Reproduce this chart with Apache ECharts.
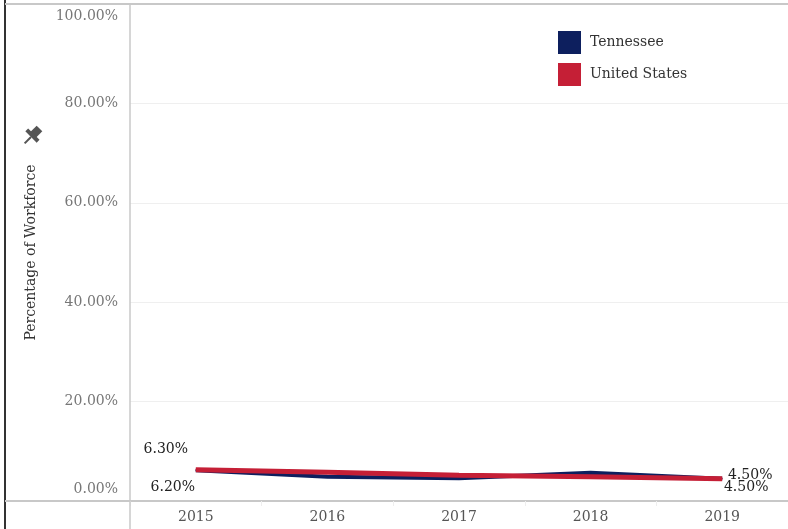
<!DOCTYPE html>
<html><head><meta charset="utf-8">
<script src="https://cdn.jsdelivr.net/npm/echarts@6/dist/echarts.min.js"></script>
<style>html,body{margin:0;padding:0;background:#fff}#c{width:788px;height:529px}</style>
</head><body><div id="c"></div>
<script>
var years = ['2015','2016','2017','2018','2019'];
var tennessee = [6.2, 4.9, 4.6, 5.7, 4.5];
var unitedStates = [6.3, 5.8, 5.2, 4.9, 4.5];
var yTicks = [0, 20, 40, 60, 80, 100];

var FONT = '"DejaVu Serif", "Liberation Serif", serif';
var NAVY = '#0d1f5e', RED = '#c51f36';

function endLabels(arr, first, last) {
  return arr.map(function (v, i) {
    var d = { value: v };
    if (i === 0) d.label = { show: true, position: 'inside', offset: first };
    else if (i === arr.length - 1) d.label = { show: true, position: 'inside', offset: last };
    return d;
  });
}

var chart = echarts.init(document.getElementById('c'));
chart.setOption({
  animation: false,
  backgroundColor: '#fff',
  grid: { left: 130, right: 0, top: 4, bottom: 28 },
  legend: {
    orient: 'vertical', left: 553, top: 26, itemWidth: 23, itemHeight: 23, itemGap: 9,
    icon: 'rect',
    textStyle: { fontFamily: FONT, fontSize: 14, color: '#333', padding: [0, 0, 0, 4] },
    data: ['Tennessee', 'United States']
  },
  xAxis: {
    type: 'category', data: years, boundaryGap: true,
    axisLine: { show: true, lineStyle: { color: '#c8c8c8', width: 2 } },
    axisTick: { show: true, alignWithLabel: false, length: 5, lineStyle: { color: '#eee' } },
    axisLabel: { fontFamily: FONT, fontSize: 14, color: '#555', margin: 9 }
  },
  yAxis: {
    type: 'value', min: yTicks[0], max: yTicks[yTicks.length - 1], interval: 20,
    name: 'Percentage of Workforce', nameLocation: 'middle', nameGap: 92, nameRotate: 90,
    nameTextStyle: { fontFamily: FONT, fontSize: 14, color: '#333' },
    axisLine: { show: false }, axisTick: { show: false },
    splitLine: { show: true, lineStyle: { color: '#efefef', width: 1 } },
    axisLabel: {
      margin: 12, color: '#777', fontFamily: FONT, fontSize: 14,
      formatter: function (v) {
        var t = v.toFixed(2) + '%';
        if (v === 0) return '{lo|' + t + '}';
        if (v === 100) return '{hi|' + t + '}';
        return t;
      },
      rich: {
        lo: { fontFamily: FONT, fontSize: 14, color: '#777', padding: [0, 0, 24, 0] },
        hi: { fontFamily: FONT, fontSize: 14, color: '#777', padding: [24, 0, 0, 0] }
      }
    }
  },
  series: [
    {
      name: 'Tennessee', type: 'line', data: endLabels(tennessee, [-23, 17], [24, 9]),
      symbol: 'circle', symbolSize: 1, showSymbol: true,
      itemStyle: { color: NAVY }, lineStyle: { color: NAVY, width: 4 },
      label: { show: false, formatter: function (p) { return p.value.toFixed(2) + '%'; }, fontFamily: FONT, fontSize: 14, color: '#222' },
      z: 2
    },
    {
      name: 'United States', type: 'line', data: endLabels(unitedStates, [-30, -20], [28, -3]),
      symbol: 'circle', symbolSize: 1, showSymbol: true,
      itemStyle: { color: RED }, lineStyle: { color: RED, width: 5 },
      label: { show: false, formatter: function (p) { return p.value.toFixed(2) + '%'; }, fontFamily: FONT, fontSize: 14, color: '#222' },
      z: 3
    }
  ],
  graphic: [
    { type: 'line', shape: { x1: 5, y1: 0, x2: 5, y2: 529 }, style: { stroke: '#333', lineWidth: 2 }, z: 10 },
    { type: 'line', shape: { x1: 5, y1: 4, x2: 788, y2: 4 }, style: { stroke: '#c8c8c8', lineWidth: 2 }, z: 10 },
    { type: 'line', shape: { x1: 130, y1: 4, x2: 130, y2: 529 }, style: { stroke: '#c8c8c8', lineWidth: 1.5 }, z: 10 },
    { type: 'line', shape: { x1: 5, y1: 501, x2: 130, y2: 501 }, style: { stroke: '#c8c8c8', lineWidth: 2 }, z: 10 },
    {
      type: 'group', x: 31, y: 137, rotation: -Math.PI / 4, z: 10,
      children: [
        { type: 'rect', shape: { x: -4, y: -12, width: 8, height: 9 }, style: { fill: '#555' } },
        { type: 'rect', shape: { x: -8, y: -4, width: 16, height: 4 }, style: { fill: '#555' } },
        { type: 'line', shape: { x1: 0, y1: 0, x2: 0, y2: 9 }, style: { stroke: '#555', lineWidth: 2 } }
      ]
    }
  ]
});
</script></body></html>
